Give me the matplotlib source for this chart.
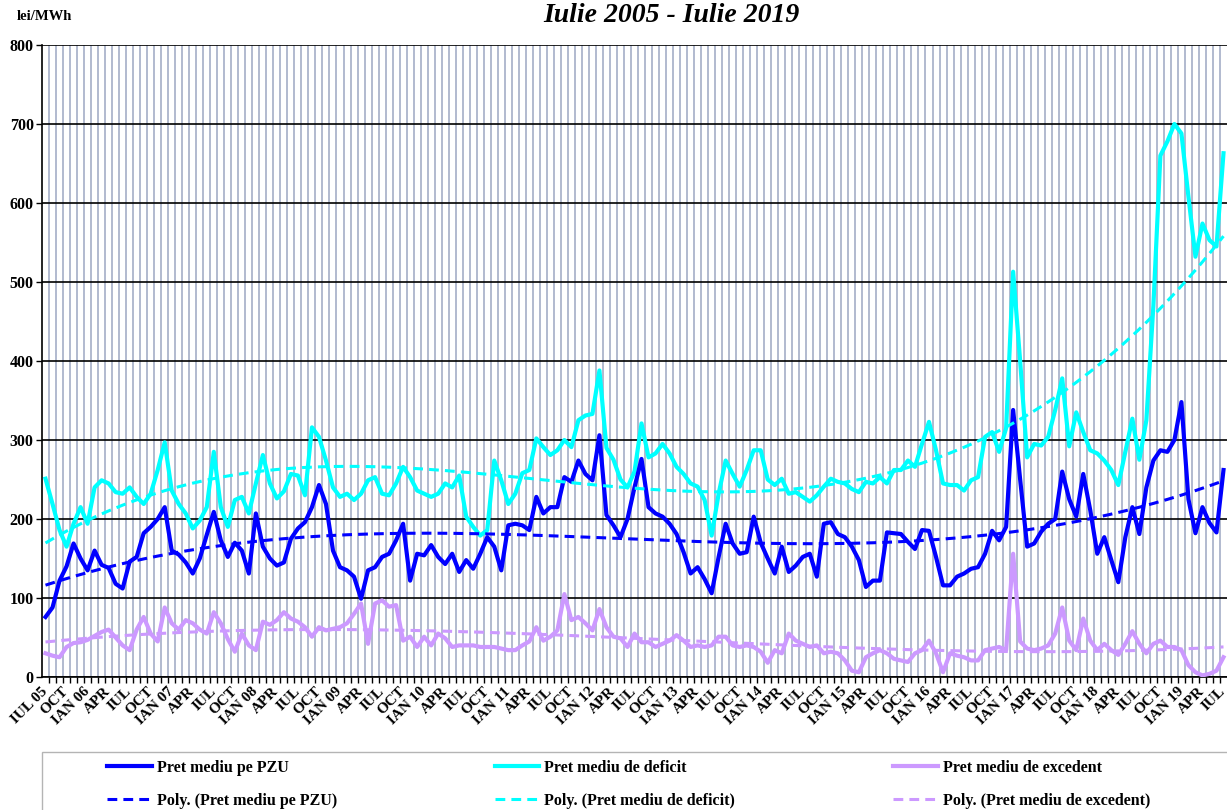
import matplotlib.pyplot as plt
import numpy as np
from matplotlib.lines import Line2D
from matplotlib.patches import Rectangle

# monthly averages, IUL 2005 .. IUL 2019 (lei/MWh)
pzu = [76, 88, 122, 140, 169, 150, 135, 160, 142, 138, 118, 112, 146, 152, 182, 190, 200, 215,
       160, 155, 145, 131, 150, 180, 209, 173, 152, 170, 160, 131, 207, 165, 150, 141, 145, 175,
       188, 196, 215, 243, 219, 160, 139, 135, 127, 99, 135, 139, 152, 156, 173, 194,
       122, 156, 154, 167, 152, 143, 156, 133, 148, 137, 156, 177, 165, 135, 192, 194,
       192, 186, 228, 207, 215, 215, 253, 247, 274, 257, 249, 306, 205, 192, 177, 200, 240, 276,
       215, 207, 203, 194, 181, 158, 131, 139, 124, 106, 152, 194, 169, 156, 158, 203,
       170, 150, 131, 165, 133, 141, 152, 156, 127, 194, 196, 181, 177, 165, 148, 114, 122, 122,
       183, 182, 181, 171, 162, 186, 185, 152, 116, 116, 127, 131, 137, 139, 156, 185, 173, 190,
       338, 250, 165, 169, 184, 194, 200, 260, 225, 203, 257, 211, 156, 177, 148, 120, 177, 215,
       181, 240, 274, 287, 285, 300, 348, 225, 182, 215, 195, 183, 262]

deficit = [251, 219, 186, 165, 194, 215, 194, 240, 249, 245, 234, 232, 240, 228, 219, 232, 262, 297,
           236, 219, 207, 188, 198, 215, 285, 215, 190, 224, 228, 207, 245, 281, 245, 226, 235, 257,
           255, 230, 316, 304, 274, 240, 228, 232, 224, 232, 249, 253, 232, 230, 245, 266,
           253, 236, 232, 228, 232, 245, 240, 255, 203, 190, 179, 186, 274, 249, 219, 232,
           258, 262, 302, 291, 281, 287, 300, 291, 325, 331, 333, 388, 290, 275, 250, 240, 260, 321,
           278, 283, 295, 283, 266, 257, 245, 241, 224, 179, 232, 274, 257, 241, 262, 287,
           287, 250, 243, 251, 232, 234, 228, 222, 230, 241, 251, 247, 245, 238, 234, 247, 245, 253,
           245, 262, 262, 274, 266, 295, 323, 287, 245, 243, 243, 236, 249, 253, 304, 310, 285, 315,
           513, 400, 278, 295, 293, 304, 338, 378, 292, 335, 310, 287, 283, 274, 262, 243, 285, 327,
           275, 325, 470, 660, 678, 700, 688, 608, 532, 574, 553, 545, 663]

excedent = [30, 27, 25, 38, 43, 44, 47, 52, 57, 60, 50, 40, 34, 60, 76, 55, 45, 88,
            68, 60, 72, 68, 60, 55, 82, 68, 48, 32, 55, 40, 34, 70, 66, 72, 82, 74,
            70, 63, 51, 63, 59, 61, 63, 68, 80, 93, 42, 93, 97, 89, 91, 46,
            51, 38, 51, 40, 55, 49, 38, 40, 40, 40, 38, 38, 38, 36, 34, 34,
            40, 45, 63, 46, 51, 59, 105, 72, 76, 68, 59, 86, 63, 51, 49, 38, 55, 44,
            44, 38, 42, 46, 53, 46, 38, 40, 38, 40, 51, 51, 40, 38, 40, 38,
            32, 18, 34, 30, 55, 46, 42, 38, 40, 30, 32, 30, 21, 8, 6, 25, 30, 34,
            30, 23, 21, 19, 30, 34, 46, 30, 6, 30, 27, 25, 21, 21, 34, 36, 38, 34,
            156, 45, 36, 34, 36, 40, 55, 88, 46, 34, 74, 46, 34, 42, 34, 28, 42, 58,
            42, 30, 42, 46, 38, 38, 34, 15, 6, 2, 4, 8, 25]

tick_labels = ["IUL 05", "OCT", "IAN 06", "APR", "IUL", "OCT", "IAN 07", "APR", "IUL", "OCT",
               "IAN 08", "APR", "IUL", "OCT", "IAN 09", "APR", "IUL", "OCT", "IAN 10", "APR",
               "IUL", "OCT", "IAN 11", "APR", "IUL", "OCT", "IAN 12", "APR", "IUL", "OCT",
               "IAN 13", "APR", "IUL", "OCT", "IAN 14", "APR", "IUL", "OCT", "IAN 15", "APR",
               "IUL", "OCT", "IAN 16", "APR", "IUL", "OCT", "IAN 17", "APR", "IUL", "OCT",
               "IAN 18", "APR", "IUL", "OCT", "IAN 19", "APR", "IUL"]

names = ["Pret mediu pe PZU", "Pret mediu de deficit", "Pret mediu de excedent"]
colors = ["#0000ff", "#00ffff", "#cc99ff"]

plt.rcParams['font.family'] = ['Liberation Serif', 'DejaVu Serif']
plt.rcParams['font.weight'] = 'bold'

W, H = 1227, 810
fig = plt.figure(figsize=(W / 100, H / 100), dpi=100)
ax = fig.add_axes([42 / W, 1 - 677 / H, 1185 / W, 632 / H])

x = np.arange(len(pzu))
ax.set_xlim(-0.5, len(pzu) - 0.5)
ax.set_ylim(0, 800)

# vertical category grid
ax.vlines(np.arange(0.5, len(pzu) - 0.5), 0, 800, colors="#abb4cb", lw=1.3, zorder=0)

# Excel-style polynomial trend lines (order 3)
trends = []
for vals in (pzu, deficit, excedent):
    p = np.polynomial.Polynomial.fit(x, vals, 3)
    trends.append(p(x))

dash = (0, (3.2, 2.0))
for vals, col in zip((excedent, deficit, pzu), colors[::-1]):
    ax.plot(x, vals, color=col, lw=3.0, zorder=3)
for tr, col in zip(trends[::-1], colors[::-1]):
    ax.plot(x, tr, color=col, lw=2.2, ls=dash, zorder=4)

ax.set_yticks(range(0, 801, 100))
ax.grid(axis='y', color='black', lw=1.2, zorder=1)
ax.set_axisbelow(True)
ax.tick_params(axis='y', length=4, width=1, pad=2, labelsize=11.5)

ax.set_xticks(x[::3])
ax.set_xticklabels(tick_labels, rotation=45, ha='right', va='center',
                   rotation_mode='anchor', fontsize=11)
ax.set_xticks(np.arange(0.5, len(pzu) - 0.5), minor=True)
ax.tick_params(axis='x', which='major', length=0, pad=9)
ax.tick_params(axis='x', which='minor', length=4, width=1)

for s in ['top', 'right']:
    ax.spines[s].set_visible(False)
ax.spines['left'].set_linewidth(1.2)
ax.spines['bottom'].set_linewidth(1.2)

fig.text(671 / W, 1 - 15 / H, "Iulie 2005 - Iulie 2019", ha='center', va='center',
         fontsize=20, fontweight='bold', fontstyle='italic')
fig.text(17 / W, 1 - 17 / H, "lei/MWh", ha='left', va='center', fontsize=10.5, fontweight='bold')

# legend frame (runs past the bottom and right edges, as in the original)
fig.patches.append(Rectangle((42 / W, -0.05), 1.1, 0.05 + 1 - 752 / H, transform=fig.transFigure,
                             facecolor='white', edgecolor='#b4b4b4', lw=1.0))

handles = []
labels = []
for n, col in zip(names, colors):
    handles.append(Line2D([], [], color=col, lw=3.0))
    labels.append(n)
    handles.append(Line2D([], [], color=col, lw=2.2, ls=dash))
    labels.append("Poly. (" + n + ")")

leg = fig.legend(handles, labels, ncol=3, loc='upper left', mode='expand',
                 bbox_to_anchor=(107 / W, 0, (1150 - 107) / W, 1 - 760 / H),
                 frameon=False, fontsize=11.5, handlelength=2.8, handletextpad=0.3,
                 borderpad=0, labelspacing=1.05, borderaxespad=0)

fig.savefig("out.png", dpi=100)
